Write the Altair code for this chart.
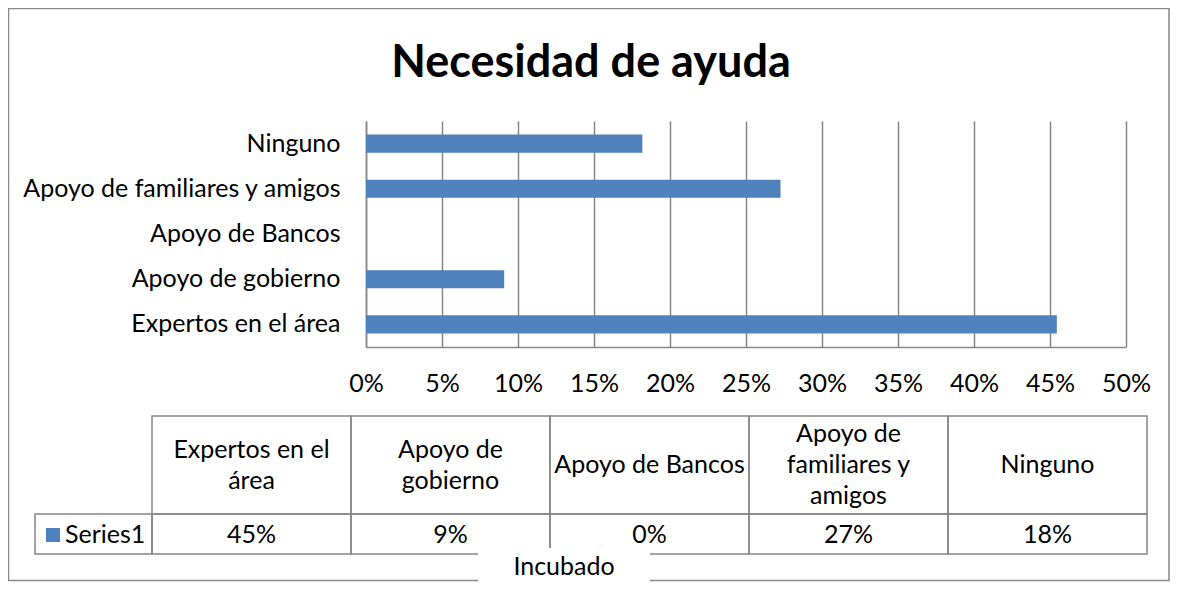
import altair as alt
import pandas as pd

# ---- data ----
categories = ["Expertos en el área", "Apoyo de gobierno", "Apoyo de Bancos",
              "Apoyo de familiares y amigos", "Ninguno"]
values = [0.4545, 0.0909, 0.0, 0.2727, 0.1818]
header_labels = ["Expertos en el\nárea", "Apoyo de\ngobierno", "Apoyo de Bancos",
                 "Apoyo de\nfamiliares y\namigos", "Ninguno"]
x_ticks = [0.0, 0.05, 0.10, 0.15, 0.20, 0.25, 0.30, 0.35, 0.40, 0.45, 0.50]
title_text = "Necesidad de ayuda"
series_name = "Series1"
axis_title = "Incubado"

FONT = "Lato"
FS = 25
GRAY = "#878787"
BLUE = "#4F81BD"

df = pd.DataFrame({"cat": categories, "value": values})
one = pd.DataFrame({"t": [title_text], "s": [series_name], "a": [axis_title]})

# header cell lines (one row per wrapped line)
rows = []
for cat, lab in zip(categories, header_labels):
    parts = lab.split("\n")
    n = len(parts)
    for i, p in enumerate(parts):
        rows.append({"cat": cat, "line": p, "pos": i - (n - 1) / 2})
hdf = pd.DataFrame(rows)

y_order = list(reversed(categories))

border = alt.Chart(one).mark_rect(fillOpacity=0, stroke=GRAY, strokeWidth=1.5).encode(
    x=alt.value(-357.5), x2=alt.value(803), y=alt.value(-112.5), y2=alt.value(459.5)
)

bars = alt.Chart(df).mark_bar(color=BLUE).encode(
    x=alt.X("value:Q",
            scale=alt.Scale(domain=[0, 0.5], nice=False),
            axis=alt.Axis(values=x_ticks, format=".0%", title=None, grid=True,
                          gridColor=GRAY, gridWidth=1.5, gridOpacity=1,
                          domainColor=GRAY, domainWidth=1.5, ticks=False,
                          labelFontSize=FS, labelColor="black", labelPadding=36,
                          labelBaseline="middle", labelFlush=False, labelOverlap=False)),
    y=alt.Y("cat:N", sort=y_order,
            scale=alt.Scale(domain=y_order, paddingInner=0.6, paddingOuter=0.3),
            axis=alt.Axis(title=None, ticks=False, domainColor=GRAY, domainWidth=1.5,
                          labelFontSize=FS, labelColor="black", labelPadding=26,
                          labelLimit=0)),
)

table_x = alt.X("cat:N", sort=categories,
                scale=alt.Scale(domain=categories, range=[-214, 781],
                                paddingInner=0, paddingOuter=0),
                axis=None)

header_cells = alt.Chart(df).mark_rect(fillOpacity=0, stroke=GRAY, strokeWidth=1.5).encode(
    x=table_x, y=alt.value(295), y2=alt.value(393)
)
value_cells = alt.Chart(df).mark_rect(fillOpacity=0, stroke=GRAY, strokeWidth=1.5).encode(
    x=table_x, y=alt.value(393), y2=alt.value(433)
)
legend_cell = alt.Chart(one).mark_rect(fillOpacity=0, stroke=GRAY, strokeWidth=1.5).encode(
    x=alt.value(-331), x2=alt.value(-214), y=alt.value(393), y2=alt.value(433)
)

header_text = alt.Chart(hdf).mark_text(fontSize=FS, baseline="middle", align="center",
                                       color="black").encode(
    x=table_x,
    y=alt.Y("pos:Q", scale=alt.Scale(domain=[-1, 1], range=[313, 375]), axis=None),
    text="line:N",
)
value_text = alt.Chart(df).mark_text(fontSize=FS, baseline="middle", align="center",
                                     color="black").encode(
    x=table_x, y=alt.value(414), text=alt.Text("value:Q", format=".0%")
)

legend_sq = alt.Chart(one).mark_rect(color=BLUE).encode(
    x=alt.value(-320), x2=alt.value(-306), y=alt.value(407), y2=alt.value(421)
)
legend_txt = alt.Chart(one).mark_text(fontSize=FS, baseline="middle", align="left",
                                      color="black").encode(
    x=alt.value(-301), y=alt.value(414), text="s:N"
)

white_box = alt.Chart(one).mark_rect(fill="white").encode(
    x=alt.value(112), x2=alt.value(284), y=alt.value(427), y2=alt.value(470)
)
axis_title_txt = alt.Chart(one).mark_text(fontSize=FS, baseline="middle", align="center",
                                          color="black").encode(
    x=alt.value(198), y=alt.value(446), text="a:N"
)

title_txt = alt.Chart(one).mark_text(fontSize=45, fontWeight="bold", baseline="alphabetic",
                                     align="center", color="black").encode(
    x=alt.value(225), y=alt.value(-44), text="t:N"
)

chart = alt.layer(
    border, bars, header_cells, value_cells, legend_cell, header_text, value_text,
    legend_sq, legend_txt, white_box, axis_title_txt, title_txt
).resolve_scale(x="independent", y="independent").properties(
    width=760, height=226,
    padding={"left": 358, "top": 113, "right": 44, "bottom": 235},
    autosize=alt.AutoSizeParams(type="none"),
).configure(font=FONT).configure_view(stroke=None)

chart.save("out.html", embed_options={"renderer": "svg", "actions": False})
